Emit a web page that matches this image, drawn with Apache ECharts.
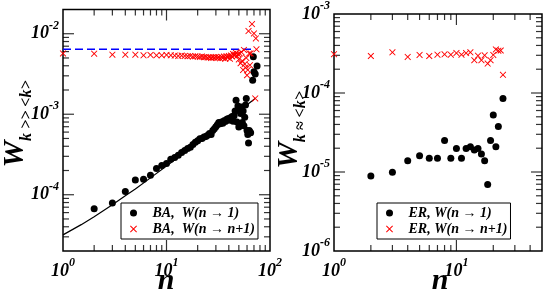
<!DOCTYPE html>
<html><head><meta charset="utf-8">
<script src="https://cdn.jsdelivr.net/npm/echarts@6/dist/echarts.min.js"></script>
<style>html,body{margin:0;padding:0;background:#fff}#c{width:545px;height:292px}</style>
</head><body><div id="c"></div>
<script>
// ---- data ----
const baDotN = [2,3,4,5,6,7,8,9,10,11,12,13,14,15,16,17,18,19,20,21,22,23,24,25,26,27,28,29,30,31,32,33,34,35,36,37,38,39,40,41,42,43,44,45,46,47,48,49,50,51,52,53,54,55,56,57,58,59,60,61,62,63,64,65,68,69,70,72,75];
const baDotW = [6.7e-5,7.9e-5,1.1e-4,1.52e-4,1.56e-4,1.74e-4,2.12e-4,2.3e-4,2.45e-4,2.75e-4,2.9e-4,3.1e-4,3.35e-4,3.55e-4,3.75e-4,3.9e-4,4.2e-4,4.5e-4,4.7e-4,4.95e-4,5.0e-4,5.2e-4,5.3e-4,5.5e-4,5.75e-4,5.6e-4,6.3e-4,6.6e-4,7.0e-4,7.4e-4,7.9e-4,7.6e-4,8.0e-4,7.7e-4,8.3e-4,8.1e-4,8.6e-4,8.8e-4,8.4e-4,9.0e-4,8.7e-4,9.4e-4,8.2e-4,9.6e-4,1.1e-3,1.49e-3,8.0e-4,1.27e-3,6.95e-4,1.14e-3,1.02e-3,1.23e-3,7.9e-4,1.1e-3,7.2e-4,9.2e-4,1.3e-3,1.57e-3,6.3e-4,5.6e-4,4.4e-4,6.3e-4,6.0e-4,5.9e-4,2.65e-3,5.17e-3,3.36e-3,3.15e-3,3.96e-3];
const baCrossN = [1,2,3,4,5,6,7,8,9,10,11,12,13,14,15,16,17,18,19,20,21,22,23,24,25,26,27,28,29,30,31,32,33,34,35,36,37,38,39,40,41,42,43,44,45,46,47,48,49,50,51,52,53,54,55,56,57,58,59,60,61,62,63,64,65,67,70,72,73,74];
const baCrossW = [5.7e-3,5.65e-3,5.5e-3,5.5e-3,5.5e-3,5.4e-3,5.45e-3,5.4e-3,5.4e-3,5.45e-3,5.4e-3,5.35e-3,5.3e-3,5.35e-3,5.3e-3,5.25e-3,5.3e-3,5.2e-3,5.25e-3,5.2e-3,5.15e-3,5.2e-3,5.1e-3,5.15e-3,5.05e-3,5.1e-3,5.0e-3,5.1e-3,5.05e-3,5.15e-3,5.0e-3,5.1e-3,4.95e-3,5.15e-3,5.0e-3,5.2e-3,4.9e-3,5.25e-3,5.05e-3,5.3e-3,4.9e-3,5.35e-3,5.2e-3,5.6e-3,5.4e-3,5.5e-3,5.75e-3,5.3e-3,5.6e-3,4.8e-3,5.7e-3,4.3e-3,5.9e-3,4.6e-3,3.55e-3,6.3e-3,4.2e-3,3.8e-3,5.0e-3,3.05e-3,3.55e-3,1.08e-2,5.7e-3,4.07e-3,5.7e-3,1.32e-2,1.01e-2,1.57e-3,8.75e-3,6.4e-3];
const baFitN = [1,1.5,2,3,4,5,7,10,15,20,30,40,50,60,72];
const baFitW = [3.17e-5,4.25e-5,5.33e-5,7.5e-5,9.7e-5,1.18e-4,1.62e-4,2.27e-4,3.35e-4,4.43e-4,6.6e-4,8.76e-4,1.09e-3,1.31e-3,1.57e-3];
const baMeanN = [1,70];
const baMeanW = [6.4e-3,6.4e-3];

const erDotN = [2,3,4,5,6,7,8,9,10,11,12,13,14,15,16,17,18,19,20,21,22,24];
const erDotW = [8.9e-6,9.9e-6,1.39e-5,1.6e-5,1.49e-5,1.49e-5,2.5e-5,1.49e-5,1.99e-5,1.49e-5,1.99e-5,2.08e-5,1.9e-5,1.99e-5,1.69e-5,1.39e-5,6.95e-6,2.5e-5,5.26e-5,2.08e-5,3.77e-5,8.5e-5];
const erCrossN = [1,2,3,4,5,6,7,8,9,10,11,12,13,14,15,16,17,18,19,20,21,22,23,24];
const erCrossW = [3.1e-4,2.94e-4,3.27e-4,2.86e-4,3.03e-4,2.94e-4,3.06e-4,3.09e-4,3.06e-4,3.2e-4,3.06e-4,3.2e-4,3.27e-4,2.6e-4,2.97e-4,2.6e-4,3.0e-4,2.36e-4,2.6e-4,3.03e-4,3.56e-4,3.43e-4,3.45e-4,1.7e-4];

const leftXRange = [1, 100], leftYRange = [2e-5, 2e-2];
const rightXRange = [1, 50], rightYRange = [1e-6, 1e-3];
const leftXMajor = [10], leftXMinor = [2,3,4,5,6,7,8,9,20,30,40,50,60,70,80,90];
const leftYMajor = [1e-4,1e-3,1e-2], leftYMinor = [3e-5,4e-5,5e-5,6e-5,7e-5,8e-5,9e-5,2e-4,3e-4,4e-4,5e-4,6e-4,7e-4,8e-4,9e-4,2e-3,3e-3,4e-3,5e-3,6e-3,7e-3,8e-3,9e-3];
const rightXMajor = [10], rightXMinor = [2,3,4,5,6,7,8,9,20,30,40];
const rightYMajor = [1e-5,1e-4], rightYMinor = [2e-6,3e-6,4e-6,5e-6,6e-6,7e-6,8e-6,9e-6,2e-5,3e-5,4e-5,5e-5,6e-5,7e-5,8e-5,9e-5,2e-4,3e-4,4e-4,5e-4,6e-4,7e-4,8e-4,9e-4];

const leftLegend = ['BA,  W(n \u2192 1)', 'BA,  W(n \u2192 n+1)'];
const rightLegend = ['ER, W(n \u2192 1)', 'ER, W(n \u2192 n+1)'];

// ---- build ----
const zip = (a, b) => a.map((v, i) => [v, b[i]]);
const FONT = '"Liberation Serif", "DejaVu Serif", serif';
const XSYM = 'path://M1,0L5,4L9,0L10,1L6,5L10,9L9,10L5,6L1,10L0,9L4,5L0,1Z';

function powLabel(v) {
  const l = Math.log10(v), e = Math.round(l);
  if (Math.abs(l - e) > 1e-6) return '';
  return '{b|10}{e|' + e + '}';
}
const labelRich = {
  b: {fontFamily: FONT, fontSize: 18, fontWeight: 'bold', fontStyle: 'italic', color: '#000', lineHeight: 28, verticalAlign: 'middle'},
  e: {fontFamily: FONT, fontSize: 12, fontWeight: 'bold', fontStyle: 'italic', color: '#000', lineHeight: 28, verticalAlign: 'top'}
};
function mkAxis(grid, range, margin) {
  return {type: 'log', logBase: 10, gridIndex: grid, min: range[0], max: range[1],
    axisLine: {show: false}, axisTick: {show: false}, splitLine: {show: false},
    axisLabel: {formatter: powLabel, rich: labelRich, margin: margin, showMinLabel: true, showMaxLabel: true}};
}
// inward tick marks on all four sides, placed through the axes' scales (drawn low in the z order)
function tickSeries(ax, xr, yr, xMaj, xMin, yMaj, yMin) {
  const out = [];
  const mk = (data, size, offset) => ({type: 'scatter', xAxisIndex: ax, yAxisIndex: ax, silent: true, clip: false,
    data: data, symbol: 'rect', symbolSize: size, symbolOffset: offset, itemStyle: {color: '#000'}, z: 1});
  [[xMaj, 11], [xMin, 6]].forEach(([vals, L]) => {
    out.push(mk(vals.map(v => [v, yr[0]]), [1.2, L], [0, -L / 2]));
    out.push(mk(vals.map(v => [v, yr[1]]), [1.2, L], [0, L / 2]));
  });
  [[yMaj, 11], [yMin, 6]].forEach(([vals, L]) => {
    out.push(mk(vals.map(v => [xr[0], v]), [L, 1.2], [L / 2, 0]));
    out.push(mk(vals.map(v => [xr[1], v]), [L, 1.2], [-L / 2, 0]));
  });
  return out;
}
const legendText = {fontFamily: FONT, fontSize: 14, fontWeight: 'bold', fontStyle: 'italic', color: '#000'};
const titleRich = {
  w: {fontFamily: FONT, fontSize: 30, fontWeight: 'bold', fontStyle: 'italic', fill: '#000', lineHeight: 30, verticalAlign: 'middle'},
  s: {fontFamily: FONT, fontSize: 16, fontWeight: 'bold', fontStyle: 'italic', fill: '#000', lineHeight: 40, verticalAlign: 'bottom'}
};

const option = {
  animation: false,
  grid: [
    {left: 63, top: 9.5, width: 207, height: 241.5, show: true, borderColor: '#000', borderWidth: 1.5},
    {left: 334, top: 10, width: 209, height: 241, show: true, borderColor: '#000', borderWidth: 1.5}
  ],
  xAxis: [mkAxis(0, leftXRange, 6), mkAxis(1, rightXRange, 6)],
  yAxis: [mkAxis(0, leftYRange, 4), mkAxis(1, rightYRange, 4)],
  legend: [
    {left: 121, top: 203, orient: 'vertical', data: leftLegend, itemWidth: 28, itemHeight: 7, itemGap: 2,
      padding: [3, 3, 3, 9], borderColor: '#000', borderWidth: 1, backgroundColor: '#fff', textStyle: legendText, selectedMode: false},
    {left: 377, top: 203, orient: 'vertical', data: rightLegend, itemWidth: 28, itemHeight: 7, itemGap: 2,
      padding: [3, 3, 3, 9], borderColor: '#000', borderWidth: 1, backgroundColor: '#fff', textStyle: legendText, selectedMode: false}
  ],
  graphic: [
    {type: 'text', x: 166, y: 281, style: {text: 'n', font: 'italic bold 30px ' + FONT, fill: '#000', align: 'center', verticalAlign: 'middle'}},
    {type: 'text', x: 440, y: 281, style: {text: 'n', font: 'italic bold 30px ' + FONT, fill: '#000', align: 'center', verticalAlign: 'middle'}},
    {type: 'text', x: 15, y: 124, rotation: Math.PI / 2, style: {text: '{w|W}{s|k >> <k>}', rich: titleRich, align: 'center', verticalAlign: 'middle'}},
    {type: 'text', x: 289, y: 130, rotation: Math.PI / 2, style: {text: '{w|W}{s|k \u2248 <k>}', rich: titleRich, align: 'center', verticalAlign: 'middle'}}
  ],
  series: [].concat(
    tickSeries(0, leftXRange, leftYRange, leftXMajor, leftXMinor, leftYMajor, leftYMinor),
    tickSeries(1, rightXRange, rightYRange, rightXMajor, rightXMinor, rightYMajor, rightYMinor),
    [
    {type: 'line', xAxisIndex: 0, yAxisIndex: 0, data: zip(baFitN, baFitW), symbol: 'none', lineStyle: {color: '#000', width: 1.2}, silent: true, z: 2},
    {type: 'line', xAxisIndex: 0, yAxisIndex: 0, data: zip(baMeanN, baMeanW), symbol: 'none', lineStyle: {color: '#0000ff', width: 1.5, type: [8, 4]}, silent: true, z: 2},
    {name: leftLegend[0], type: 'scatter', xAxisIndex: 0, yAxisIndex: 0, data: zip(baDotN, baDotW), symbol: 'circle', symbolSize: 7, itemStyle: {color: '#000', opacity: 1}, clip: false, z: 3},
    {name: leftLegend[1], type: 'scatter', xAxisIndex: 0, yAxisIndex: 0, data: zip(baCrossN, baCrossW), symbol: XSYM, symbolSize: 6.5, itemStyle: {color: '#ff0000', opacity: 1}, clip: false, z: 3},
    {name: rightLegend[0], type: 'scatter', xAxisIndex: 1, yAxisIndex: 1, data: zip(erDotN, erDotW), symbol: 'circle', symbolSize: 7, itemStyle: {color: '#000', opacity: 1}, clip: false, z: 3},
    {name: rightLegend[1], type: 'scatter', xAxisIndex: 1, yAxisIndex: 1, data: zip(erCrossN, erCrossW), symbol: XSYM, symbolSize: 6.5, itemStyle: {color: '#ff0000', opacity: 1}, clip: false, z: 3}
    ])
};
const chart = echarts.init(document.getElementById('c'));
chart.setOption(option);
</script></body></html>
